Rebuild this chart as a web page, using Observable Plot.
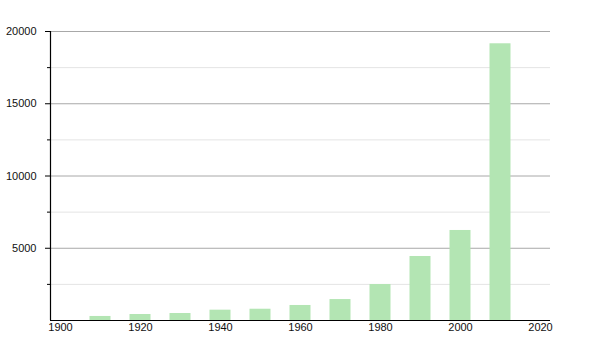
<!DOCTYPE html>
<html>
<head>
<meta charset="utf-8">
<script src="https://cdn.jsdelivr.net/npm/d3@7"></script>
<script src="https://cdn.jsdelivr.net/npm/@observablehq/plot@0.6"></script>
<style>
  html, body { margin: 0; padding: 0; background: #fff; }
  #chart svg { display: block; }
</style>
</head>
<body>
<div id="chart"></div>
<script>
const years = [1910, 1920, 1930, 1940, 1950, 1960, 1970, 1980, 1990, 2000, 2010];
const population = [280, 415, 485, 715, 780, 1040, 1450, 2490, 4430, 6230, 19150];
const xTicks = [1900, 1920, 1940, 1960, 1980, 2000, 2020];
const yMajor = [5000, 10000, 15000, 20000];
const yMinor = [2500, 7500, 12500, 17500];
const xDomain = [1897.5, 2022.5];
const yDomain = [0, 20000];

const data = years.map((y, i) => ({year: y, value: population[i]}));

const chart = Plot.plot({
  width: 600,
  height: 350,
  marginLeft: 50,
  marginRight: 50,
  marginTop: 31,
  marginBottom: 30,
  style: {fontFamily: "'Liberation Sans', Arial, sans-serif", fontSize: "11px", color: "#111", background: "#fff"},
  x: {domain: xDomain},
  y: {domain: yDomain},
  marks: [
    Plot.ruleY(yMinor, {stroke: "#e4e4e4", strokeWidth: 1}),
    Plot.ruleY(yMajor, {stroke: "#a8a8a8", strokeWidth: 1}),
    Plot.rectY(data, {
      x1: d => d.year - 5,
      x2: d => d.year + 5,
      y1: 0,
      y2: "value",
      insetLeft: 9.5,
      insetRight: 9.5,
      fill: "#b3e5b3"
    }),
    Plot.axisY(yMajor, {tickSize: 5, tickPadding: 9, tickFormat: d => String(d), stroke: "#000", label: null}),
    Plot.axisY(yMinor, {tickSize: 3, tickFormat: () => "", stroke: "#000", label: null}),
    Plot.axisX(xTicks, {tickSize: 0, tickPadding: 3, tickFormat: d => String(d), label: null}),
    Plot.ruleX([xDomain[0]], {stroke: "#000", strokeWidth: 1.2}),
    Plot.ruleY([yDomain[0]], {stroke: "#000", strokeWidth: 1.2})
  ]
});
document.getElementById("chart").appendChild(chart);
</script>
</body>
</html>
